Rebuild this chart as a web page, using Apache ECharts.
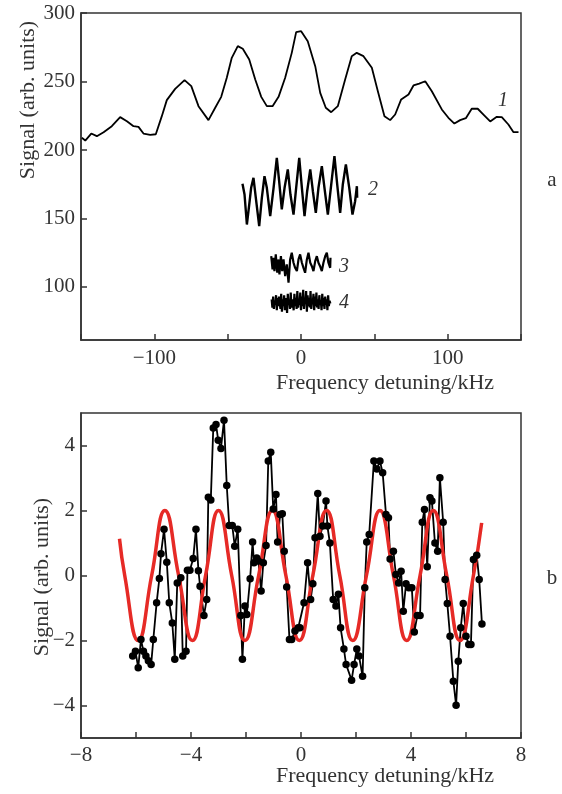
<!DOCTYPE html>
<html>
<head>
<meta charset="utf-8">
<script src="https://cdn.jsdelivr.net/npm/echarts@6/dist/echarts.min.js"></script>
<style>
html,body{margin:0;padding:0;background:#fff;}
#chart{width:562px;height:794px;}
</style>
</head>
<body>
<div id="chart"></div>
<script>
// ---------- Panel a data (frequency kHz, signal arb. units) ----------
const curve1 = [[-149.4,208.9],[-147.1,206.9],[-143.0,212],[-139.2,210.1],[-134.6,213],[-129.0,217.4],[-123.3,224],[-118.7,221],[-114.2,217.4],[-110.8,216.9],[-107.4,212],[-102.8,211.1],[-99.0,211.5],[-94.9,224.7],[-91.5,236.4],[-85.8,244.6],[-79.4,251],[-74.8,246.6],[-69.9,232],[-63.1,221.8],[-58.5,230.8],[-54.4,238.8],[-50.6,252.7],[-47.2,267.3],[-43.1,275.8],[-39.7,273.9],[-35.3,266.1],[-31.2,251.5],[-27.1,238.8],[-23.3,232],[-19.4,232],[-15.3,238.8],[-10.8,252.7],[-6.3,270.9],[-3.3,286],[0.1,286.7],[4.6,279.4],[9.7,261.2],[13.1,241.7],[16.9,230.8],[20.6,227.6],[25.1,232],[30.1,251.5],[34.6,268.5],[38.0,270.9],[42.6,268.5],[48.3,260],[52.4,242.9],[56.9,224.7],[60.8,221.8],[64.2,225.9],[68.3,236.9],[73.3,240.5],[76.7,247.1],[80.6,248.5],[84.7,250.2],[89.2,242.9],[96.0,229.6],[100.5,223.5],[104.6,219.3],[108.5,221.8],[112.4,223.2],[116.4,230.1],[120.5,230.1],[124.4,225.9],[129.0,220.8],[133.5,224.2],[136.9,224],[141.4,218.6],[144.9,213],[148.3,213]];

const curve2 = [[-39.9,175.3],[-38.5,167.5],[-36.9,145.6],[-35.3,160.2],[-34.0,172.4],[-32.4,179.7],[-30.8,165.1],[-28.5,144.4],[-26.7,165.1],[-24.9,180.9],[-23.3,172.4],[-21.0,151.7],[-18.7,172.4],[-16.5,194.3],[-14.9,177.2],[-13.1,156.6],[-11.2,172.4],[-9.0,185.8],[-7.2,167.5],[-5.1,152.9],[-3.3,172.4],[-1.2,194.3],[0.6,172.4],[2.4,151.7],[4.2,169.9],[6.3,185.8],[8.1,169.9],[10.1,154.1],[11.9,172.4],[14.2,188.2],[16.0,172.4],[18.3,152.9],[20.6,174.8],[22.8,195.5],[24.7,174.8],[26.7,154.1],[28.5,174.8],[30.6,189.4],[32.9,172.4],[35.1,152.9],[36.9,162.6],[38.1,173.6],[38.3,165.1]];

const curve3 = [[-20.3,122.5],[-19.4,112.8],[-18.7,121.3],[-18.1,111.6],[-17.2,123.8],[-16.2,110.4],[-15.3,120.1],[-14.7,109.2],[-13.7,122.5],[-12.8,111.6],[-11.9,120.1],[-10.8,107.9],[-9.7,116.5],[-8.5,103.1],[-7.4,120.1],[-6.3,125],[-5.1,117.7],[-4.0,114],[-2.8,111.6],[-1.7,120.1],[-0.6,123.8],[0.6,117.7],[1.7,114],[2.8,110.4],[4.0,120.1],[5.1,125],[6.3,117.7],[7.4,115.2],[8.5,111.6],[9.7,118.9],[10.8,122.5],[11.9,117.7],[13.0,115.2],[14.2,111.6],[15.3,117.7],[16.5,122.5],[17.6,125],[18.7,117.7],[19.9,114],[20.1,121.3]];

const curve4 = [[-20,91],[-19.5,85],[-19,93],[-18.5,84],[-18,90],[-17.5,87],[-17,94],[-16.5,83],[-16,92],[-15.5,86],[-15,93],[-14.5,88],[-14,84],[-13.5,95],[-13,82],[-12.5,91],[-12,86],[-11.5,94],[-11,83],[-10.5,89],[-10,92],[-9.5,81],[-9,95],[-8.5,87],[-8,90],[-7.5,84],[-7,96],[-6.5,85],[-6,91],[-5.5,88],[-5,83],[-4.5,95],[-4,86],[-3.5,92],[-3,84],[-2.5,97],[-2,85],[-1.5,90],[-1,87],[-0.5,96],[0,83],[0.5,93],[1,86],[1.5,98],[2,84],[2.5,91],[3,88],[3.5,97],[4,82],[4.5,94],[5,86],[5.5,92],[6,85],[6.5,97],[7,84],[7.5,90],[8,88],[8.5,95],[9,83],[9.5,93],[10,86],[10.5,96],[11,85],[11.5,91],[12,84],[12.5,94],[13,87],[13.5,90],[14,83],[14.5,95],[15,86],[15.5,92],[16,84],[16.5,93],[17,87],[17.5,91],[18,83],[18.5,94],[19,86],[19.5,90],[20,88]];

// ---------- Panel b data ----------
const measuredB = [[-6.12,-2.48],[-6.02,-2.33],[-5.92,-2.84],[-5.82,-1.97],[-5.73,-2.33],[-5.64,-2.48],[-5.55,-2.62],[-5.45,-2.74],[-5.37,-1.97],[-5.25,-0.84],[-5.15,-0.09],[-5.09,0.67],[-4.98,1.42],[-4.88,0.41],[-4.79,-0.84],[-4.68,-1.46],[-4.59,-2.58],[-4.50,-0.23],[-4.37,-0.07],[-4.30,-2.48],[-4.18,-2.33],[-4.13,0.16],[-4.04,0.16],[-3.92,0.52],[-3.82,1.42],[-3.73,0.15],[-3.67,-0.33],[-3.53,-1.23],[-3.43,-0.74],[-3.37,2.41],[-3.28,2.32],[-3.19,4.54],[-3.09,4.65],[-3.01,4.16],[-2.91,3.91],[-2.80,4.78],[-2.70,2.77],[-2.61,1.54],[-2.50,1.54],[-2.41,0.90],[-2.30,1.42],[-2.19,-1.23],[-2.13,-2.58],[-2.04,-0.94],[-1.97,-1.2],[-1.85,-0.10],[-1.76,1.03],[-1.71,0.39],[-1.61,0.54],[-1.55,0.45],[-1.45,-0.48],[-1.37,0.39],[-1.27,0.92],[-1.19,3.52],[-1.10,3.79],[-1.01,2.05],[-0.91,2.49],[-0.85,1.03],[-0.76,1.88],[-0.68,1.90],[-0.61,0.75],[-0.52,-0.35],[-0.42,-1.97],[-0.34,-1.97],[-0.22,-1.71],[-0.10,-1.61],[-0.04,-1.61],[0.11,-0.84],[0.24,0.39],[0.35,-0.74],[0.43,-0.25],[0.51,1.16],[0.61,2.52],[0.69,1.21],[0.79,1.52],[0.91,2.29],[0.96,1.52],[1.05,1.0],[1.17,-0.74],[1.27,-0.94],[1.36,-0.58],[1.44,-1.61],[1.56,-2.26],[1.64,-2.74],[1.84,-3.22],[1.93,-2.74],[2.03,-2.26],[2.11,-2.48],[2.24,-3.10],[2.32,-0.38],[2.39,1.03],[2.48,1.26],[2.65,3.52],[2.76,3.28],[2.87,3.52],[2.97,3.16],[3.09,1.88],[3.18,1.78],[3.24,0.51],[3.36,0.75],[3.45,0.03],[3.55,-0.23],[3.64,0.13],[3.72,-1.10],[3.82,-0.25],[3.92,-0.38],[4.03,-0.38],[4.12,-1.74],[4.23,-1.23],[4.33,-1.23],[4.41,1.64],[4.49,2.03],[4.59,0.27],[4.69,2.39],[4.76,2.29],[4.87,1.0],[4.97,0.75],[5.05,3.01],[5.17,1.64],[5.24,-0.12],[5.32,-0.86],[5.42,-1.87],[5.54,-3.25],[5.64,-3.99],[5.72,-2.64],[5.81,-1.61],[5.90,-0.86],[6.00,-1.87],[6.10,-2.12],[6.18,-2.12],[6.27,0.49],[6.39,0.62],[6.48,-0.12],[6.58,-1.49]];

const fitB = [[-6.6,1.13],[-6.41,0],[-5.92,-2],[-5.43,0],[-4.95,2],[-4.45,0],[-3.95,-2],[-3.47,0],[-3.0,2],[-2.52,0],[-2.04,-2],[-1.54,0],[-1.04,2],[-0.55,0],[-0.06,-2],[0.43,0],[0.93,2],[1.41,0],[1.88,-2],[2.38,0],[2.87,2],[3.36,0],[3.84,-2],[4.33,0],[4.81,2],[5.3,0],[5.78,-2],[6.27,0],[6.57,1.62]];

// tick labels shown
const xLabelsA = [-100, 0, 100];
const xLabelsB = [-8, -4, 0, 4, 8];

const FONT = '"Liberation Serif", "DejaVu Serif", serif';
const AXC = '#333';
function fmtNum(v){ return v < 0 ? '\u2212' + Math.abs(v) : String(v); }

const chart = echarts.init(document.getElementById('chart'), null, {renderer:'canvas'});

const axisCommon = {
  axisLine: {show:true, onZero:false, lineStyle:{color:AXC, width:1.5}},
  axisTick: {show:true, inside:true, length:6, lineStyle:{color:AXC, width:1.5}},
  splitLine: {show:false},
  axisLabel: {color:'#333', fontFamily:FONT, fontSize:21}
};

const option = {
  animation:false,
  backgroundColor:'#fff',
  grid:[
    {left:81, top:13, width:440, height:327, show:true, borderColor:AXC, borderWidth:1.5, backgroundColor:'transparent'},
    {left:81, top:413, width:440, height:325, show:true, borderColor:AXC, borderWidth:1.5, backgroundColor:'transparent'}
  ],
  xAxis:[
    Object.assign({}, axisCommon, {type:'value', gridIndex:0, min:-150, max:150, interval:50,
      axisLabel:Object.assign({}, axisCommon.axisLabel, {margin:8,
        formatter:v => xLabelsA.indexOf(v) >= 0 ? fmtNum(v) : ''})}),
    Object.assign({}, axisCommon, {type:'value', gridIndex:1, min:-8, max:8, interval:2,
      axisLabel:Object.assign({}, axisCommon.axisLabel, {margin:7,
        formatter:v => xLabelsB.indexOf(v) >= 0 ? fmtNum(v) : ''})})
  ],
  yAxis:[
    Object.assign({}, axisCommon, {type:'value', gridIndex:0, min:61.3, max:300, splitNumber:5,
      axisLabel:Object.assign({}, axisCommon.axisLabel, {margin:6, showMinLabel:false,
        formatter:v => (v % 50 === 0) ? fmtNum(v) : ''})}),
    Object.assign({}, axisCommon, {type:'value', gridIndex:1, min:-5, max:5, splitNumber:5,
      axisLabel:Object.assign({}, axisCommon.axisLabel, {margin:6, showMinLabel:false, showMaxLabel:false,
        formatter:v => (v % 2 === 0) ? fmtNum(v) : ''})})
  ],
  series:[
    {type:'line', xAxisIndex:0, yAxisIndex:0, data:curve1, showSymbol:false, symbol:'none',
      lineStyle:{color:'#000', width:1.8}, clip:true},
    {type:'line', xAxisIndex:0, yAxisIndex:0, data:curve2, showSymbol:false, symbol:'none',
      lineStyle:{color:'#000', width:2.4}},
    {type:'line', xAxisIndex:0, yAxisIndex:0, data:curve3, showSymbol:false, symbol:'none',
      lineStyle:{color:'#000', width:2.2}},
    {type:'line', xAxisIndex:0, yAxisIndex:0, data:curve4, showSymbol:false, symbol:'none',
      lineStyle:{color:'#000', width:2.2}},
    {type:'line', xAxisIndex:1, yAxisIndex:1, data:measuredB, symbol:'circle', symbolSize:7.5, showSymbol:true,
      itemStyle:{color:'#000'}, lineStyle:{color:'#000', width:1.8}},
    {type:'line', xAxisIndex:1, yAxisIndex:1, data:fitB, smooth:true, symbol:'none', showSymbol:false,
      lineStyle:{color:'#e62a26', width:3.5}}
  ],
  graphic:[
    {type:'text', x:28, y:100, rotation:Math.PI/2, style:{text:'Signal (arb. units)', font:'22px '+FONT, fill:'#333', align:'center', verticalAlign:'middle'}},
    {type:'text', x:42, y:577, rotation:Math.PI/2, style:{text:'Signal (arb. units)', font:'22px '+FONT, fill:'#333', align:'center', verticalAlign:'middle'}},
    {type:'text', x:385, y:383, style:{text:'Frequency detuning/kHz', font:'22px '+FONT, fill:'#333', align:'center', verticalAlign:'middle'}},
    {type:'text', x:385, y:776, style:{text:'Frequency detuning/kHz', font:'22px '+FONT, fill:'#333', align:'center', verticalAlign:'middle'}},
    {type:'text', x:552, y:180, style:{text:'a', font:'21px '+FONT, fill:'#333', align:'center', verticalAlign:'middle'}},
    {type:'text', x:552, y:578, style:{text:'b', font:'21px '+FONT, fill:'#333', align:'center', verticalAlign:'middle'}},
    {type:'text', x:503, y:101, style:{text:'1', font:'italic 20px '+FONT, fill:'#333', align:'center', verticalAlign:'middle'}},
    {type:'text', x:373, y:190, style:{text:'2', font:'italic 20px '+FONT, fill:'#333', align:'center', verticalAlign:'middle'}},
    {type:'text', x:344, y:267, style:{text:'3', font:'italic 20px '+FONT, fill:'#333', align:'center', verticalAlign:'middle'}},
    {type:'text', x:344, y:303, style:{text:'4', font:'italic 20px '+FONT, fill:'#333', align:'center', verticalAlign:'middle'}}
  ]
};
chart.setOption(option);
</script>
</body>
</html>
